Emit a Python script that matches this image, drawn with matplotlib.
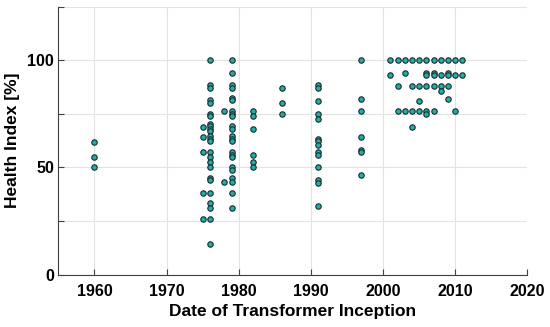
import matplotlib.pyplot as plt
import numpy as np

plt.rcParams['font.family'] = ['Liberation Sans', 'DejaVu Sans']

# fecha de puesta en servicio y su indice de salud, por grupos
anio_1960 = [1960, 1960, 1960]
hi_1960 = [61.7, 54.7, 50.0]

anio_1975 = [1975] * 5
hi_1975 = [68.9, 64.2, 57.2, 38.0, 26.0]

hi_1976 = [100, 88.2, 87.1, 81.2, 80.1, 75.1, 73.8, 70.4, 69.2, 67.9, 66.8,
           64.5, 63.3, 62.2, 57.2, 54.9, 52.5, 50.2, 45.3, 44.3, 38.0, 33.4,
           31.0, 26.0, 14.3]
anio_1976 = [1976] * len(hi_1976)

anio_1978 = [1978, 1978]
hi_1978 = [76.5, 43.0]

hi_1979 = [100, 94.1, 88.2, 87.1, 82.4, 81.2, 76.5, 75.1, 73.8, 69.2, 67.9,
           64.5, 63.3, 62.2, 57.2, 55.9, 54.9, 50.2, 48.9, 45.3, 43.0, 38.0, 31.0]
anio_1979 = [1979] * len(hi_1979)

anio_1982 = [1982] * 6
hi_1982 = [76.5, 73.8, 67.9, 55.9, 52.5, 50.2]

anio_1986 = [1986] * 3
hi_1986 = [87.1, 80.1, 75.1]

hi_1991 = [88.6, 87.1, 80.9, 75.1, 72.8, 63.4, 62.2, 60.6, 57.2, 55.9, 50.0,
           44.3, 42.7, 32.1]
anio_1991 = [1991] * len(hi_1991)

anio_1997 = [1997] * 7
hi_1997 = [100, 82.0, 76.2, 64.2, 58.3, 57.2, 46.4]

anio_2000s = [2001, 2002, 2003, 2004, 2005, 2006, 2007, 2008, 2009, 2010, 2011,
              2001, 2003, 2006, 2006, 2007, 2007, 2008, 2009, 2009, 2010, 2011,
              2002, 2004, 2005, 2006, 2007, 2008, 2008, 2009,
              2005, 2009,
              2002, 2003, 2004, 2005, 2006, 2006, 2007, 2010,
              2004]
hi_2000s = [100, 100, 100, 100, 100, 100, 100, 100, 100, 100, 100,
            93.0, 94.1, 94.1, 93.0, 94.1, 93.0, 93.0, 94.1, 93.0, 93.0, 93.0,
            88.0, 88.0, 88.0, 88.0, 88.0, 88.0, 85.8, 88.0,
            80.9, 82.1,
            76.3, 76.3, 76.3, 76.3, 76.3, 75.1, 76.3, 76.3,
            68.9]

anios = np.concatenate([anio_1960, anio_1975, anio_1976, anio_1978, anio_1979,
                        anio_1982, anio_1986, anio_1991, anio_1997, anio_2000s])
salud = np.concatenate([hi_1960, hi_1975, hi_1976, hi_1978, hi_1979,
                        hi_1982, hi_1986, hi_1991, hi_1997, hi_2000s])

fig = plt.figure(figsize=(5.5, 3.27), dpi=100)
ax = fig.add_axes([0.106, 0.160, 0.853, 0.820])

ax.plot(anios, salud, 'o', color='#22aea8', markeredgecolor='#1a2a2a',
        markeredgewidth=0.8, markersize=3.9, zorder=3)

ax.set_xlim(1955, 2020)
ax.set_ylim(0, 125)
ax.set_xticks(np.arange(1960, 2021, 10))
ax.set_yticks(np.arange(0, 126, 25))
ax.set_yticklabels(['0', '', '50', '', '100', ''])

ax.grid(True, color='#e3e3e3', linewidth=0.8)
ax.set_axisbelow(True)
for lado in ['top', 'right']:
    ax.spines[lado].set_visible(False)
for lado in ['left', 'bottom']:
    ax.spines[lado].set_color('#404040')
    ax.spines[lado].set_linewidth(0.8)

ax.tick_params(direction='in', length=4, width=0.8, color='#404040',
               labelsize=11.5)
ax.tick_params(axis='x', pad=7)
ax.tick_params(axis='y', pad=3)
for t in ax.get_xticklabels() + ax.get_yticklabels():
    t.set_fontweight('bold')

ax.set_xlabel('Date of Transformer Inception', fontsize=12.5, fontweight='bold',
              labelpad=3)
ax.set_ylabel('Health Index [%]', fontsize=12.5, fontweight='bold', labelpad=5)

plt.savefig('out.png', dpi=100)
